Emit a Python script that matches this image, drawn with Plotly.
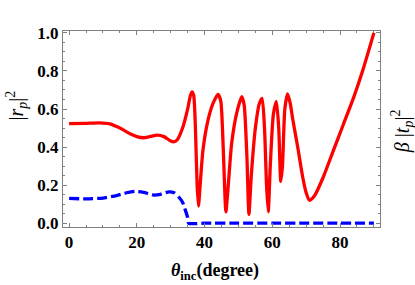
import plotly.graph_objects as go

# Red curve: |r_p|^2
red_theta = [0, 5, 9, 12, 15, 18, 20, 22, 24, 26, 28, 30, 31, 32, 33.5, 35, 35.8, 36.3, 36.8, 37.3, 37.8, 38.2, 38.7, 39.5, 41, 42.5, 44, 44.8, 45.5, 46.3, 47, 48, 49.5, 51, 51.7, 52.5, 53.1, 53.8, 55, 56.2, 57, 57.7, 58.3, 58.8, 59.4, 60.3, 61.2, 61.9, 62.5, 63, 63.7, 64.5, 65.3, 66, 67.5, 69, 70, 71, 72.5, 75, 78, 81, 84, 87, 90]
red_vals = [0.523, 0.525, 0.527, 0.522, 0.50, 0.47, 0.455, 0.449, 0.456, 0.463, 0.455, 0.432, 0.428, 0.44, 0.50, 0.60, 0.67, 0.69, 0.67, 0.5, 0.2, 0.09, 0.2, 0.38, 0.54, 0.63, 0.677, 0.64, 0.4, 0.06, 0.2, 0.42, 0.58, 0.665, 0.62, 0.35, 0.047, 0.25, 0.5, 0.63, 0.656, 0.5, 0.2, 0.06, 0.3, 0.57, 0.64, 0.5, 0.22, 0.3, 0.6, 0.68, 0.63, 0.55, 0.4, 0.24, 0.16, 0.12, 0.145, 0.24, 0.38, 0.52, 0.66, 0.82, 1.0]

# Blue dashed curve: beta |t_p|^2
blue_theta = [0, 5, 10, 14, 17, 19.5, 22, 25, 27, 29.5, 31, 32.5, 33.5, 34.3, 35, 35.3, 40, 50, 60, 70, 80, 90]
blue_vals = [0.13, 0.128, 0.132, 0.145, 0.16, 0.167, 0.162, 0.148, 0.152, 0.165, 0.16, 0.135, 0.11, 0.07, 0.03, 0.0, 0.0, 0.0, 0.0, 0.0, 0.0, 0.0]

x_ticks = [0, 20, 40, 60, 80]
y_ticks = [0.0, 0.2, 0.4, 0.6, 0.8, 1.0]

fig = go.Figure()
fig.add_trace(go.Scatter(x=red_theta, y=red_vals, mode="lines",
                         line=dict(color="#ff0000", width=3.3, shape="spline", smoothing=0.6),
                         showlegend=False))
fig.add_trace(go.Scatter(x=blue_theta, y=blue_vals, mode="lines",
                         line=dict(color="#0000ff", width=3.3, dash="10px,4px", shape="spline", smoothing=0.6),
                         showlegend=False))

serif = "Times New Roman"
frame = "#808080"

fig.update_xaxes(range=[-1.8, 91.8], tickmode="array", tickvals=x_ticks,
                 ticktext=[f"<b>{v}</b>" for v in x_ticks],
                 showline=True, linecolor=frame, linewidth=1, mirror="ticks",
                 ticks="inside", ticklen=4, tickcolor=frame, tickwidth=1,
                 minor=dict(tickmode="linear", tick0=0, dtick=5, ticks="inside", ticklen=2,
                            tickcolor=frame, showgrid=False),
                 showgrid=False, zeroline=False,
                 tickfont=dict(family=serif, size=17, color="black"))
fig.update_yaxes(range=[-0.02, 1.01], tickmode="array", tickvals=y_ticks,
                 ticktext=[f"<b>{v:.1f}</b>" for v in y_ticks],
                 showline=True, linecolor=frame, linewidth=1, mirror="ticks",
                 ticks="inside", ticklen=4, tickcolor=frame, tickwidth=1,
                 minor=dict(tickmode="linear", tick0=0, dtick=0.05, ticks="inside", ticklen=2,
                            tickcolor=frame, showgrid=False),
                 showgrid=False, zeroline=False,
                 tickfont=dict(family=serif, size=17, color="black"))

fig.update_layout(
    template="none",
    font=dict(family=serif, color="black"),
    width=415, height=285,
    margin=dict(l=63, r=35, t=31, b=58, autoexpand=False),
    paper_bgcolor="white", plot_bgcolor="white",
    annotations=[
        dict(text="|<i>r</i><sub><i>p</i></sub>|<sup>2</sup>", xref="paper", yref="paper",
             x=-0.145, y=0.62, xanchor="center", yanchor="middle", textangle=-90,
             showarrow=False, font=dict(family=serif, size=20, color="black")),
        dict(text="<i>β</i> |<i>t</i><sub><i>p</i></sub>|<sup>2</sup>", xref="paper", yref="paper",
             x=1.07, y=0.49, xanchor="center", yanchor="middle", textangle=-90,
             showarrow=False, font=dict(family=serif, size=20, color="black")),
        dict(text="<b><i>θ</i><sub>inc</sub>(degree)</b>", xref="paper", yref="paper",
             x=0.48, y=-0.225, xanchor="center", yanchor="middle",
             showarrow=False, font=dict(family=serif, size=18, color="black")),
    ],
)

fig.write_html("out.html", config={"displayModeBar": False},
               post_script="document.body.style.margin='0';")
